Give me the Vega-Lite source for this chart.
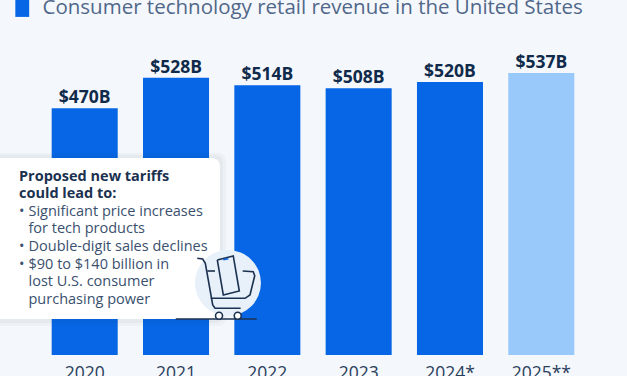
{
"$schema":"https://vega.github.io/schema/vega-lite/v6.json",
"width":548,"height":355,
"autosize":{"type":"none"},
"padding":{"left":39,"right":40,"top":0,"bottom":21},
"background":"#f4f7fb",
"config":{"view":{"stroke":null},"font":"Open Sans"},
"datasets":{
"bars":[
{"year":"2020","revenue":470,"label":"$470B","series":"Consumer technology retail revenue in the United States"},
{"year":"2021","revenue":528,"label":"$528B","series":"Consumer technology retail revenue in the United States"},
{"year":"2022","revenue":514,"label":"$514B","series":"Consumer technology retail revenue in the United States"},
{"year":"2023","revenue":508,"label":"$508B","series":"Consumer technology retail revenue in the United States"},
{"year":"2024*","revenue":520,"label":"$520B","series":"Consumer technology retail revenue in the United States"},
{"year":"2025**","revenue":537,"label":"$537B","series":"Forecast"}
],
"box":[
{"x":2018.96,"x2":2021.547,"y":384.8,"y2":55.2,"o":0.03},
{"x":2018.96,"x2":2021.515,"y":381,"y2":61,"o":0.04},
{"x":2018.96,"x2":2021.48,"y":375.3,"y2":68.6,"o":1}
],
"heads":[
{"x":2019.281,"y":339.7,"t":"Proposed new tariffs"},
{"x":2019.281,"y":306.1,"t":"could lead to:"}
],
"notes":[
{"x":2019.281,"y":271.8,"t":"•"},
{"x":2019.385,"y":271.8,"t":"Significant price increases"},
{"x":2019.385,"y":239.5,"t":"for tech products"},
{"x":2019.281,"y":205.2,"t":"•"},
{"x":2019.385,"y":205.2,"t":"Double-digit sales declines"},
{"x":2019.281,"y":172,"t":"•"},
{"x":2019.385,"y":172,"t":"$90 to $140 billion in"},
{"x":2019.385,"y":138.5,"t":"lost U.S. consumer"},
{"x":2019.385,"y":104.8,"t":"purchasing power"}
],
"disc":[{"x":2021.569,"y":137.2}],
"icon":[
{"g":"ground","i":1,"x":2020.997,"y":68.6},{"g":"ground","i":2,"x":2021.884,"y":68.6},
{"g":"frame","i":1,"x":2021.233,"y":184.2},{"g":"frame","i":2,"x":2021.292,"y":182.9},{"g":"frame","i":3,"x":2021.321,"y":174.7},{"g":"frame","i":4,"x":2021.402,"y":95.3},{"g":"frame","i":5,"x":2021.427,"y":89},{"g":"frame","i":6,"x":2021.708,"y":89},
{"g":"basket","i":1,"x":2021.38,"y":108},{"g":"basket","i":2,"x":2021.756,"y":108},{"g":"basket","i":3,"x":2021.81,"y":114.3},{"g":"basket","i":4,"x":2021.862,"y":151},{"g":"basket","i":5,"x":2021.846,"y":158.7},{"g":"basket","i":6,"x":2021.73,"y":160},
{"g":"stub","i":1,"x":2021.343,"y":160},{"g":"stub","i":2,"x":2021.427,"y":160},
{"g":"phone","i":1,"x":2021.452,"y":181},{"g":"phone","i":2,"x":2021.627,"y":188.6},{"g":"phone","i":3,"x":2021.693,"y":121.9},{"g":"phone","i":4,"x":2021.518,"y":114.3},{"g":"phone","i":5,"x":2021.452,"y":181}
],
"camera":[{"g":"cam","i":1,"x":2021.518,"y":181.5},{"g":"cam","i":2,"x":2021.573,"y":183.5}],
"wheels":[{"x":2021.471,"y":74.9},{"x":2021.676,"y":74.9}]
},
"resolve":{"scale":{"x":"independent"},"axis":{"x":"independent"}},
"layer":[
{"data":{"name":"bars"},"mark":{"type":"bar"},
"encoding":{
"x":{"field":"year","type":"nominal","sort":null,"scale":{"type":"band","paddingInner":0.277,"paddingOuter":0.139},
"axis":{"title":null,"domain":false,"ticks":false,"labelAngle":0,"labelFontSize":17.5,"labelColor":"#2a3f5c","labelPadding":9,"labelFont":"Open Sans"}},
"y":{"field":"revenue","type":"quantitative","scale":{"domain":[0,676.2],"nice":false},"axis":null},
"color":{"field":"series","type":"nominal","scale":{"domain":["Consumer technology retail revenue in the United States","Forecast"],"range":["#0666e6","#99c9fb"]},
"legend":{"title":null,"orient":"none","legendX":-27,"legendY":-2,"values":["Consumer technology retail revenue in the United States"],"labelFontSize":20.5,"labelColor":"#50678a","labelFont":"Open Sans","labelLimit":600,"symbolType":"M-0.8,-1H0.8V1H-0.8Z","symbolSize":300,"symbolStrokeWidth":0,"symbolOpacity":1,"labelOffset":10}}
}},
{"data":{"name":"bars"},"mark":{"type":"text","fontSize":17.5,"fontWeight":"bold","color":"#0f2a4a","baseline":"bottom","dy":-1},
"encoding":{
"x":{"field":"year","type":"nominal","sort":null,"scale":{"type":"band","paddingInner":0.277,"paddingOuter":0.139},"axis":null},
"y":{"field":"revenue","type":"quantitative"},
"text":{"field":"label"}
}},
{"data":{"name":"box"},"mark":{"type":"rect","cornerRadius":8,"clip":false},
"encoding":{
"x":{"field":"x","type":"quantitative","scale":{"domain":[2019.5,2025.5],"nice":false,"zero":false},"axis":null},
"x2":{"field":"x2"},
"y":{"field":"y","type":"quantitative"},"y2":{"field":"y2"},
"color":{"condition":{"test":"datum.o===1","value":"#ffffff"},"value":"#24324a"},
"opacity":{"field":"o","type":"quantitative","scale":null}
}},
{"data":{"name":"heads"},"mark":{"type":"text","align":"left","baseline":"middle","fontSize":14.5,"fontWeight":"bold","color":"#1b3150"},
"encoding":{
"x":{"field":"x","type":"quantitative","scale":{"domain":[2019.5,2025.5],"nice":false,"zero":false},"axis":null},
"y":{"field":"y","type":"quantitative"},
"text":{"field":"t"}
}},
{"data":{"name":"notes"},"mark":{"type":"text","align":"left","baseline":"middle","fontSize":14.5,"color":"#3a506e"},
"encoding":{
"x":{"field":"x","type":"quantitative","scale":{"domain":[2019.5,2025.5],"nice":false,"zero":false},"axis":null},
"y":{"field":"y","type":"quantitative"},
"text":{"field":"t"}
}},
{"data":{"name":"disc"},"mark":{"type":"point","shape":"circle","filled":true,"size":4356,"opacity":1,"color":"#e8f0fa"},
"encoding":{
"x":{"field":"x","type":"quantitative","scale":{"domain":[2019.5,2025.5],"nice":false,"zero":false},"axis":null},
"y":{"field":"y","type":"quantitative"}
}},
{"data":{"name":"icon"},"mark":{"type":"line","color":"#1b3150","strokeWidth":1.6,"interpolate":"linear"},
"encoding":{
"x":{"field":"x","type":"quantitative","scale":{"domain":[2019.5,2025.5],"nice":false,"zero":false},"axis":null},
"y":{"field":"y","type":"quantitative"},
"detail":{"field":"g"},"order":{"field":"i"}
}},
{"data":{"name":"camera"},"mark":{"type":"line","color":"#0666e6","strokeWidth":1.6},
"encoding":{
"x":{"field":"x","type":"quantitative","scale":{"domain":[2019.5,2025.5],"nice":false,"zero":false},"axis":null},
"y":{"field":"y","type":"quantitative"},
"order":{"field":"i"}
}},
{"data":{"name":"wheels"},"mark":{"type":"point","shape":"circle","filled":true,"size":49,"opacity":1,"color":"#ffffff","stroke":"#1b3150","strokeWidth":1.6},
"encoding":{
"x":{"field":"x","type":"quantitative","scale":{"domain":[2019.5,2025.5],"nice":false,"zero":false},"axis":null},
"y":{"field":"y","type":"quantitative"}
}}
]
}
